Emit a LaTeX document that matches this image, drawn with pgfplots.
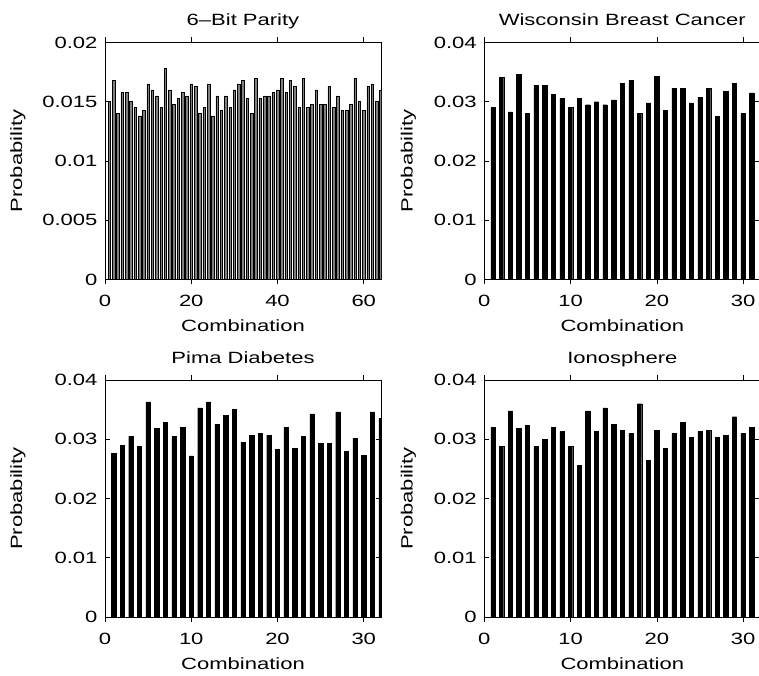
\documentclass[border=0pt]{standalone}
\usepackage{fontspec}
\setmainfont{Liberation Sans}[FakeStretch=1.35]
\usepackage{pgfplots}
\pgfplotsset{compat=1.18}
\pgfplotsset{
  panel/.style={
    scale only axis, width=276pt, height=237pt, anchor=south west,
    ymin=0, xmin=0,
    axis line style={line width=0.9pt},
    tick align=inside, xtick pos=both, ytick pos=both,
    major tick length=5pt,
    every tick/.append style={line width=0.6pt, black},
    scaled y ticks=false,
    /pgf/number format/assume math mode=true,
    yticklabel style={/pgf/number format/fixed, /pgf/number format/precision=3, xshift=-2pt},
    xticklabel style={yshift=-5pt},
    xlabel={Combination}, ylabel={Probability},
    title style={at={(axis description cs:0.5,1)}, anchor=base, yshift=11pt},
    xlabel style={at={(axis description cs:0.5,0)}, anchor=base, yshift=-52pt},
    ybar, bar shift=0pt,
  },
  leftp/.style={ylabel style={at={(axis description cs:-0.316,0.5)}, anchor=center}},
  rightp/.style={ylabel style={at={(axis description cs:-0.275,0.5)}, anchor=center}},
  small/.style={xmax=32, ymax=0.04, xtick={0,10,20,30}, ytick={0,0.01,0.02,0.03,0.04}},
  blackbar/.style={fill=black, draw=black, line width=0.4pt, bar width=0.5},
}
\begin{document}
\fontsize{16.3}{19}\selectfont
\begin{tikzpicture}
% 6-Bit Parity
\begin{axis}[panel, leftp, at={(105pt,395.5pt)}, xmax=64, ymax=0.02,
  xtick={0,20,40,60}, ytick={0,0.005,0.01,0.015,0.02}, title={6--Bit Parity}]
\addplot[fill={rgb,255:red,128;green,128;blue,128}, draw=black, line width=0.5pt, bar width=0.6] coordinates {
(1,0.0150) (2,0.0168) (3,0.0140) (4,0.0158) (5,0.0158) (6,0.0150) (7,0.0145) (8,0.0138)
(9,0.0143) (10,0.0165) (11,0.0160) (12,0.0155) (13,0.0145) (14,0.0178) (15,0.0160) (16,0.0148)
(17,0.0153) (18,0.0158) (19,0.0155) (20,0.0165) (21,0.0163) (22,0.0140) (23,0.0145) (24,0.0165)
(25,0.0138) (26,0.0155) (27,0.0143) (28,0.0155) (29,0.0145) (30,0.0160) (31,0.0165) (32,0.0168)
(33,0.0153) (34,0.0140) (35,0.0170) (36,0.0153) (37,0.0155) (38,0.0155) (39,0.0158) (40,0.0160)
(41,0.0170) (42,0.0158) (43,0.0168) (44,0.0163) (45,0.0145) (46,0.0170) (47,0.0145) (48,0.0148)
(49,0.0160) (50,0.0148) (51,0.0148) (52,0.0163) (53,0.0145) (54,0.0155) (55,0.0143) (56,0.0143)
(57,0.0148) (58,0.0170) (59,0.0150) (60,0.0143) (61,0.0163) (62,0.0165) (63,0.0150) (64,0.0160)
};
\end{axis}
% Wisconsin
\begin{axis}[panel, rightp, small, at={(484.3pt,395.5pt)}, title={Wisconsin Breast Cancer}]
\addplot[blackbar] coordinates {
(1,0.0290) (2,0.0341) (3,0.0283) (4,0.0346) (5,0.0280) (6,0.0328) (7,0.0328) (8,0.0313)
(9,0.0306) (10,0.0290) (11,0.0306) (12,0.0295) (13,0.0300) (14,0.0295) (15,0.0303) (16,0.0331)
(17,0.0336) (18,0.0280) (19,0.0298) (20,0.0343) (21,0.0285) (22,0.0323) (23,0.0323) (24,0.0298)
(25,0.0308) (26,0.0323) (27,0.0275) (28,0.0318) (29,0.0331) (30,0.0280) (31,0.0315)
};
\end{axis}
% Pima
\begin{axis}[panel, leftp, small, at={(105pt,58pt)}, title={Pima Diabetes}]
\addplot[blackbar] coordinates {
(1,0.0276) (2,0.0290) (3,0.0305) (4,0.0288) (5,0.0363) (6,0.0318) (7,0.0328) (8,0.0305)
(9,0.0320) (10,0.0272) (11,0.0353) (12,0.0363) (13,0.0325) (14,0.0340) (15,0.0350) (16,0.0295)
(17,0.0307) (18,0.0310) (19,0.0307) (20,0.0283) (21,0.0320) (22,0.0285) (23,0.0305) (24,0.0343)
(25,0.0293) (26,0.0293) (27,0.0346) (28,0.0280) (29,0.0302) (30,0.0273) (31,0.0346) (32,0.0335)
};
\end{axis}
% Ionosphere
\begin{axis}[panel, rightp, small, at={(484.3pt,58pt)}, title={Ionosphere}]
\addplot[blackbar] coordinates {
(1,0.0320) (2,0.0288) (3,0.0348) (4,0.0318) (5,0.0323) (6,0.0288) (7,0.0300) (8,0.0320)
(9,0.0313) (10,0.0288) (11,0.0256) (12,0.0348) (13,0.0313) (14,0.0353) (15,0.0325) (16,0.0315)
(17,0.0310) (18,0.0360) (19,0.0264) (20,0.0315) (21,0.0285) (22,0.0310) (23,0.0328) (24,0.0303)
(25,0.0313) (26,0.0315) (27,0.0303) (28,0.0307) (29,0.0338) (30,0.0310) (31,0.0320)
};
\end{axis}
\pgfresetboundingbox
\path[use as bounding box] (0,0) rectangle (759pt,675pt);
\end{tikzpicture}
\end{document}
